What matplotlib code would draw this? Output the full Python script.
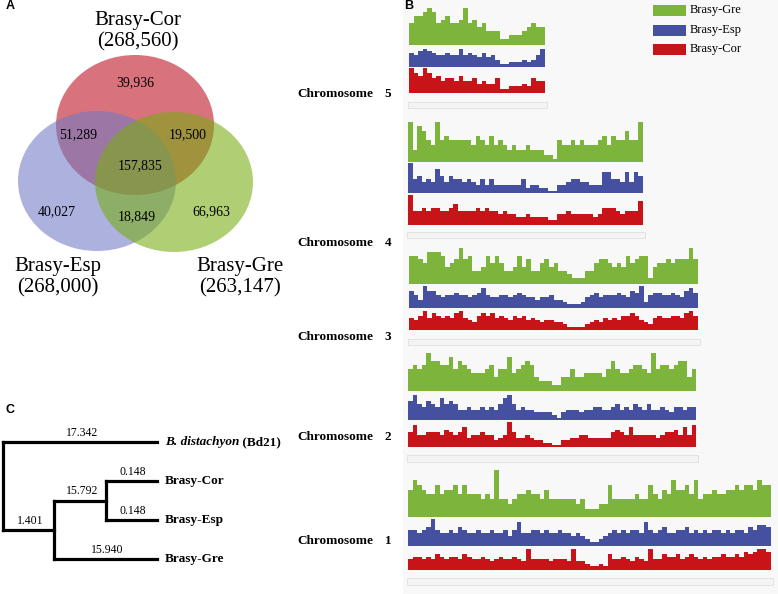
import matplotlib
matplotlib.use("Agg")
import matplotlib.pyplot as plt
from matplotlib.patches import Ellipse, Rectangle

W, H = 778, 594
SERIF = "Liberation Serif"
SANS = "Liberation Sans"

# --- panel A: venn ---
venn_names = ["Brasy-Cor", "Brasy-Esp", "Brasy-Gre"]
venn_totals = ["(268,560)", "(268,000)", "(263,147)"]
# Cor only, Cor&Esp, Cor&Gre, all, Esp only, Esp&Gre, Gre only
venn_counts = ["39,936", "51,289", "19,500", "157,835", "40,027", "18,849", "66,963"]

# --- panel B: SNP density per window (relative heights 0-9) ---
series_names = ["Brasy-Gre", "Brasy-Esp", "Brasy-Cor"]
series_colors = ["#7db43c", "#4650a0", "#c81419"]

chr5_gre = [5,7,7,8,9,8,5,6,7,5,5,6,9,5,6,4,5,3,3,3,1,1,2,2,2,3,4,5,4,4]
chr5_esp = [6,5,7,8,7,6,5,5,6,5,5,8,5,6,5,4,6,4,5,3,1,1,2,2,2,3,2,3,5,8]
chr5_cor = [9,7,6,9,7,5,6,4,5,5,4,6,4,4,5,3,4,3,3,5,1,1,2,2,2,3,2,5,4,4]

chr4_gre = [8,2,7,6,4,3,8,4,5,4,4,4,4,4,3,5,4,3,5,3,4,3,2,3,2,2,3,2,2,2,
            1,1,0,4,3,3,4,3,4,3,3,3,4,5,3,5,4,4,6,4,4,8]
chr4_esp = [9,4,5,3,4,3,7,5,3,5,4,4,3,4,3,2,4,2,4,2,2,2,2,2,2,4,1,2,2,1,
            1,0,0,2,2,3,4,4,3,3,2,2,2,6,6,4,4,3,6,3,6,5]
chr4_cor = [9,4,4,5,4,5,5,4,4,5,6,4,4,4,4,5,4,5,4,4,3,4,3,3,2,2,3,2,2,2,
            2,1,1,3,3,4,3,3,3,3,3,2,3,5,5,5,4,3,4,4,4,7]

chr3_gre = [7,7,6,5,8,8,8,7,4,5,6,9,6,7,3,3,4,7,5,7,5,3,3,4,7,4,6,3,3,5,
            6,4,5,3,3,2,1,1,1,3,3,5,6,6,5,4,5,4,7,5,6,7,7,1,4,5,5,6,5,6,
            6,6,9,6]
chr3_esp = [7,5,3,9,7,7,5,4,5,5,6,5,5,4,5,6,8,5,4,4,5,5,4,5,6,5,4,4,3,4,
            4,5,3,3,2,1,1,1,2,4,5,6,4,5,5,5,6,5,4,7,6,9,2,5,6,6,5,5,6,5,
            4,7,8,6]
chr3_cor = [5,4,6,8,5,7,6,5,6,5,7,8,5,4,3,6,7,6,7,5,6,5,4,6,5,6,4,5,4,3,
            4,4,3,3,2,1,1,1,1,2,3,4,3,5,4,5,4,6,6,7,6,4,3,2,5,6,5,5,6,6,
            5,7,8,6]

chr2_gre = [5,6,5,6,9,7,7,6,6,8,5,7,6,5,4,4,4,5,6,3,5,5,8,4,5,6,7,6,3,2,
            2,2,1,1,3,3,5,3,3,4,4,4,4,3,5,7,5,4,4,5,6,6,5,4,9,5,6,6,5,6,
            7,7,3,5]
chr2_esp = [6,8,5,4,6,5,4,7,5,6,5,3,3,4,3,3,4,3,4,3,5,7,8,5,3,4,3,3,2,2,
            2,2,1,0,2,3,3,3,2,3,3,4,4,3,3,4,5,3,4,3,5,4,3,5,3,3,4,3,2,4,
            4,3,4,4]
chr2_cor = [5,8,4,4,5,5,5,4,6,5,4,5,7,3,4,4,5,4,4,2,3,4,9,5,3,3,4,3,2,2,
            1,1,0,0,2,2,3,3,4,4,3,3,3,3,3,5,6,5,4,7,4,4,4,4,4,3,4,5,5,6,
            4,7,4,8]

chr1_gre = [5,7,6,5,4,4,6,4,5,5,6,4,6,4,4,4,3,4,3,9,3,3,2,3,4,4,5,4,4,3,
            5,3,3,3,3,3,3,2,3,1,1,1,2,2,6,3,3,3,3,3,4,3,3,6,4,3,5,4,7,5,
            5,6,4,7,3,4,4,5,4,4,5,5,6,5,6,6,5,7,6,6]
chr1_esp = [5,5,4,5,6,9,5,4,4,5,4,6,5,4,4,5,4,4,5,4,4,5,3,5,8,4,4,5,5,4,
            5,4,4,5,4,4,3,4,3,2,1,1,2,3,4,5,4,5,4,5,5,4,8,5,4,5,6,4,4,5,
            5,6,4,5,4,5,4,5,5,4,5,4,5,5,4,6,5,7,7,6]
chr1_cor = [4,5,5,4,5,4,6,5,4,5,5,4,6,5,4,4,5,4,3,4,5,4,4,5,4,3,8,4,4,4,
            4,3,4,4,4,3,8,3,3,2,1,1,2,1,6,4,4,5,4,3,5,4,3,8,4,4,6,5,5,6,
            4,5,6,5,4,5,4,5,5,6,5,5,6,5,7,6,7,8,8,7]

chromosomes = ["5", "4", "3", "2", "1"]
chrom_data = {
    "5": (chr5_gre, chr5_esp, chr5_cor),
    "4": (chr4_gre, chr4_esp, chr4_cor),
    "3": (chr3_gre, chr3_esp, chr3_cor),
    "2": (chr2_gre, chr2_esp, chr2_cor),
    "1": (chr1_gre, chr1_esp, chr1_cor),
}

# --- panel C: tree ---
tree_edges = [  # parent, child, label
    ("root", "Bd21", "17.342"),
    ("root", "n1", "1.401"),
    ("n1", "n2", "15.792"),
    ("n2", "Brasy-Cor", "0.148"),
    ("n2", "Brasy-Esp", "0.148"),
    ("n1", "Brasy-Gre", "15.940"),
]
tree_leaves = ["Bd21", "Brasy-Cor", "Brasy-Esp", "Brasy-Gre"]


def frac(x0, y0, x1, y1):
    return [x0 / W, 1 - y1 / H, (x1 - x0) / W, (y1 - y0) / H]


fig = plt.figure(figsize=(W / 100, H / 100), dpi=100)
ax0 = fig.add_axes([0, 0, 1, 1])
ax0.set_xlim(0, W)
ax0.set_ylim(H, 0)
ax0.axis("off")

# panel B background
ax0.add_patch(Rectangle((403, 0), W - 403, H, facecolor="#f8f8f8", edgecolor="none", zorder=0))

# panel letters
for letter, (lx, ly) in zip("ABC", [(6, 6), (404, 6), (6, 410)]):
    ax0.text(lx, ly, letter, fontsize=9, fontweight="bold", family=SANS, ha="left", va="center")

# ---- A: venn ----
venn_circles = [((135, 125), "#bc0d1e"), ((97, 181), "#717bc5"), ((174, 182), "#78ac10")]
for (c, col) in venn_circles:
    ax0.add_patch(Ellipse(c, 158, 140, facecolor=col, edgecolor="none", alpha=0.58, zorder=1))

venn_label_pos = [(138, 21), (58, 267), (240, 267)]
for name, tot, (x, y) in zip(venn_names, venn_totals, venn_label_pos):
    ax0.text(x, y, name, fontsize=15, family=SERIF, ha="center", va="center")
    ax0.text(x, y + 21, tot, fontsize=15, family=SERIF, ha="center", va="center")

count_pos = [(135, 83), (78, 135), (188, 135), (140, 166), (57, 212), (137, 217), (211, 212)]
for txt, (x, y) in zip(venn_counts, count_pos):
    ax0.text(x, y, txt, fontsize=10, family=SERIF, ha="center", va="center", zorder=3)

# ---- B: density tracks ----
layout = {  # x-range, three track y-ranges, chromosome bar y-range, label y
    "5": ((409, 545), [(8, 45), (47, 67), (68, 93)], (102, 108), 94),
    "4": ((408, 643), [(117, 162), (163, 193), (195, 225)], (232, 238), 243),
    "3": ((409, 698), [(248, 284), (286, 308), (309, 330)], (339, 345), 337),
    "2": ((408, 696), [(353, 391), (392, 420), (422, 447)], (455, 462), 437),
    "1": ((408, 771), [(470, 517), (519, 546), (547, 570)], (578, 585), 541),
}

for chrom in chromosomes:
    (x0, x1), tracks, (b0, b1), ly = layout[chrom]
    for vals, col, (y0, y1) in zip(chrom_data[chrom], series_colors, tracks):
        ax = fig.add_axes(frac(x0, y0, x1, y1))
        n = len(vals)
        ax.stairs(vals, range(n + 1), baseline=-0.6, fill=True, color=col, lw=0)
        ax.set_xlim(0, n)
        ax.set_ylim(-0.6, 9)
        ax.axis("off")
    ax0.add_patch(Rectangle((x0 - 1, b0), x1 - x0 + 3, b1 - b0, facecolor="#f4f4f4",
                            edgecolor="#e3e3e3", lw=0.7, zorder=1))
    ax0.text(297, ly, "Chromosome", fontsize=9.5, fontweight="bold", family=SERIF,
             ha="left", va="center")
    ax0.text(388, ly, chrom, fontsize=9.5, fontweight="bold", family=SERIF,
             ha="center", va="center")

# legend
for i, (name, col) in enumerate(zip(series_names, series_colors)):
    y = 10 + 19.5 * i
    ax0.add_patch(Rectangle((653, y - 5), 33, 11, facecolor=col, edgecolor="none", zorder=2))
    ax0.text(690, y, name, fontsize=9, family=SERIF, ha="left", va="center")

# ---- C: tree ----
children = {}
for p, c, _ in tree_edges:
    children.setdefault(p, []).append(c)

ypos = {leaf: 442 + 39 * i for i, leaf in enumerate(tree_leaves)}
depth = {}


def place(node, d):
    depth[node] = d
    if node in children:
        ys = [place(c, d + 1) for c in children[node]]
        ypos[node] = sum(ys) / len(ys)
    return ypos[node]


place("root", 0)
xstep = 51.3
for leaf in tree_leaves:
    depth[leaf] = 3  # cladogram: align tips


def xpos(node):
    return 3 + xstep * depth[node]


for p, c, lab in tree_edges:
    ax0.plot([xpos(p), xpos(c)], [ypos[c], ypos[c]], color="black", lw=2.3,
             solid_capstyle="projecting")
    ax0.text((xpos(p) + xpos(c)) / 2 + 2, ypos[c] - 9, lab, fontsize=8.5, family=SERIF,
             ha="center", va="center")
for p, kids in children.items():
    ys = [ypos[k] for k in kids]
    ax0.plot([xpos(p), xpos(p)], [min(ys), max(ys)], color="black", lw=2.3,
             solid_capstyle="projecting")

tx = xpos("Bd21") + 8
t = ax0.text(tx, ypos["Bd21"], "B. distachyon", fontsize=9.5, fontweight="bold",
             style="italic", family=SERIF, ha="left", va="center")
ax0.annotate(" (Bd21)", xy=(1, 0.5), xycoords=t, fontsize=9.5, fontweight="bold",
             family=SERIF, ha="left", va="center")
for leaf in tree_leaves[1:]:
    ax0.text(tx, ypos[leaf], leaf, fontsize=9.5, fontweight="bold", family=SERIF,
             ha="left", va="center")

fig.savefig("out.png", dpi=100, facecolor="white")
